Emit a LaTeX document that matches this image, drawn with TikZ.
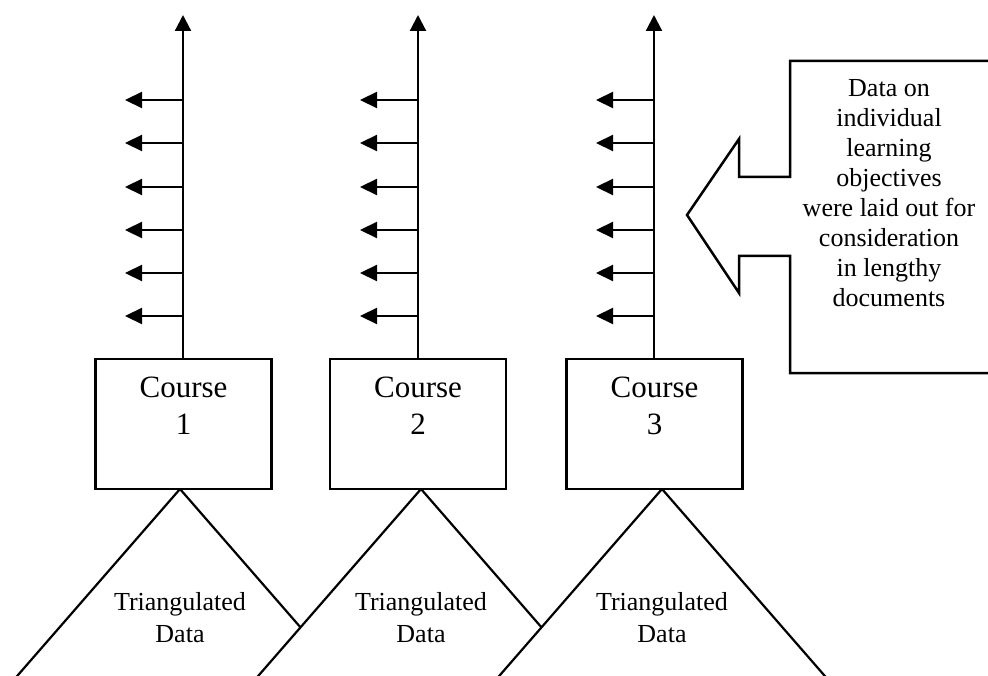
\documentclass[tikz,border=0pt]{standalone}
\usepackage{fontspec}
\setmainfont{Liberation Serif}
\usetikzlibrary{arrows.meta}
\newcommand{\stacklines}[1]{\begin{tabular}[t]{@{}c@{}}#1\end{tabular}}
\begin{document}
\begin{tikzpicture}[x=1pt,y=-1pt,
  coursebox/.style={draw, line width=2.5pt, fill=white, minimum width=176pt,
    minimum height=130pt, inner sep=0pt},
  coursetext/.style={anchor=base, inner sep=0pt, font=\fontsize{31}{37}\selectfont},
  tritext/.style={anchor=base, inner sep=0pt, font=\fontsize{26}{32}\selectfont},
  calltext/.style={anchor=base, inner sep=0pt, font=\fontsize{26}{30}\selectfont},
  trishape/.style={draw, line width=2.2pt, fill=white, line join=miter},
  mainarrow/.style={draw, line width=2.2pt, -{Triangle[length=16pt,width=16pt]}},
  sidearrow/.style={draw, line width=2.2pt, -{Triangle[length=17pt,width=16pt]}},
  callout/.style={draw, line width=2.5pt, line join=miter}
]
\useasboundingbox (0,0) rectangle (988,676);
\fill[white] (0,0) rectangle (988,676);
\clip (0,0) rectangle (988,676);

% triangles
\coordinate (a1) at (180,489);
\coordinate (a2) at (421,489);
\coordinate (a3) at (662,489);
\foreach \i in {1,2,3}{
  \path[trishape] (a\i) -- ++(-236,271) -- ++(472,0) -- cycle;
}
\node[tritext] (t1) at (180,610) {\stacklines{Triangulated\\Data}};
\node[tritext] (t2) at (421,610) {\stacklines{Triangulated\\Data}};
\node[tritext] (t3) at (662,610) {\stacklines{Triangulated\\Data}};

% course boxes
\node[coursebox] (c1) at (183.5,424) {};
\node[coursebox] (c2) at (418,424) {};
\node[coursebox] (c3) at (654.5,424) {};
\node[coursetext] (l1) at (183.5,397) {\stacklines{Course\\1}};
\node[coursetext] (l2) at (418,397) {\stacklines{Course\\2}};
\node[coursetext] (l3) at (654.5,397) {\stacklines{Course\\3}};

% vertical arrows with side arrows
\foreach \i/\x in {1/183,2/418,3/654}{
  \coordinate (top\i) at (\x,15);
  \draw[mainarrow] (\x,359) -- (top\i);
  \foreach \y [count=\k] in {100,143,187,230,273,316}{
    \coordinate (s\i\k) at (\x,\y);
    \coordinate (e\i\k) at (\x-58,\y);
    \draw[sidearrow] (s\i\k) -- (e\i\k);
  }
}

% callout arrow box
\draw[callout] (1000,61) -- (790,61) -- (790,177) -- (739,177) -- (739,139)
  -- (687,215) -- (739,293) -- (739,256) -- (790,256) -- (790,373) -- (1000,373);
\node[calltext] (info) at (889,97) {\stacklines{Data on\\individual\\learning\\objectives\\were laid out for\\consideration\\in lengthy\\documents}};
\end{tikzpicture}
\end{document}
